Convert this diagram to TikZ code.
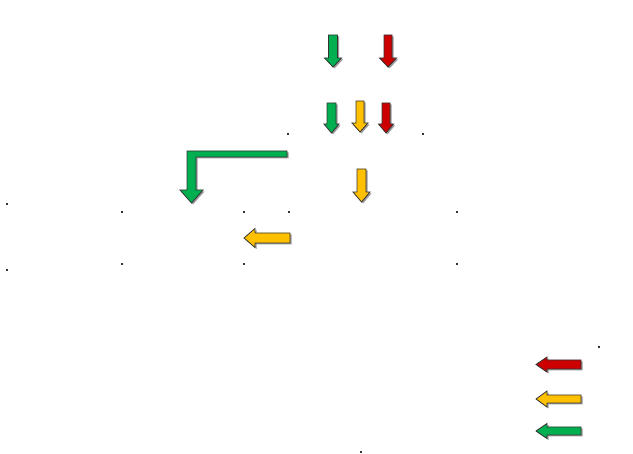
\documentclass[tikz,border=0pt]{standalone}
\definecolor{ggreen}{HTML}{00B050}
\definecolor{rred}{HTML}{CC0000}
\definecolor{yyellow}{HTML}{FFC000}
\definecolor{shadowc}{HTML}{9A9A9A}
\tikzset{
  arrowline/.style={draw=black!80, line width=0.8pt, line join=miter},
  shadowfill/.style={fill=shadowc, shift={(1.5,1.5)}},
  dotmark/.style={fill=black!80}
}
% down arrow: x, ytop, yhead, ytip, half shaft, half head, colour
\newcommand\mydarr[7]{%
  \fill[shadowfill] (#1-#5,#2) -- (#1+#5,#2) -- (#1+#5,#3) -- (#1+#6,#3) -- (#1,#4) -- (#1-#6,#3) -- (#1-#5,#3) -- cycle;
  \filldraw[arrowline,fill=#7] (#1-#5,#2) -- (#1+#5,#2) -- (#1+#5,#3) -- (#1+#6,#3) -- (#1,#4) -- (#1-#6,#3) -- (#1-#5,#3) -- cycle;}
% left arrow: y, xtip, xhead, xend, half shaft, half head, colour
\newcommand\mylarr[7]{%
  \fill[shadowfill] (#4,#1-#5) -- (#3,#1-#5) -- (#3,#1-#6) -- (#2,#1) -- (#3,#1+#6) -- (#3,#1+#5) -- (#4,#1+#5) -- cycle;
  \filldraw[arrowline,fill=#7] (#4,#1-#5) -- (#3,#1-#5) -- (#3,#1-#6) -- (#2,#1) -- (#3,#1+#6) -- (#3,#1+#5) -- (#4,#1+#5) -- cycle;}
\begin{document}
\begin{tikzpicture}[x=1pt,y=-1pt]
\useasboundingbox[fill=white] (0,0) rectangle (633,454);
% top row
\mydarr{333}{35}{58}{67}{4.5}{8.5}{ggreen}
\mydarr{388}{35}{58}{67}{4}{8.5}{rred}
% second row
\mydarr{331.5}{103}{124}{133}{4.5}{7.5}{ggreen}
\mydarr{360}{101}{123}{132}{4}{8}{yyellow}
\mydarr{386}{103}{124}{133}{4}{7.5}{rred}
% single yellow
\mydarr{361.5}{169}{192}{202}{4.5}{8.5}{yyellow}
% bent green arrow
\fill[shadowfill] (287,151) -- (187,151) -- (187,190) -- (180,190) -- (191.5,203) -- (203,190) -- (196,190) -- (196,157) -- (287,157) -- cycle;
\filldraw[arrowline,fill=ggreen] (287,151) -- (187,151) -- (187,190) -- (180,190) -- (191.5,203) -- (203,190) -- (196,190) -- (196,157) -- (287,157) -- cycle;
% left arrows
\mylarr{238}{244}{255}{290}{5}{9.5}{yyellow}
\mylarr{364.5}{536}{547}{581}{4.5}{7.5}{rred}
\mylarr{399}{536}{547}{581}{4}{8}{yyellow}
\mylarr{431}{536}{547}{581}{4}{7.5}{ggreen}
% stray dots
\foreach \p in {(7,204),(122,212),(7,270),(122,264),(244,212),(289,212),(457,212),(244,264),(457,264),(288,134),(423,134),(599,347),(361,452)}
  \fill[dotmark] \p +(-0.6,-0.6) rectangle +(0.6,0.6);
\end{tikzpicture}
\end{document}
